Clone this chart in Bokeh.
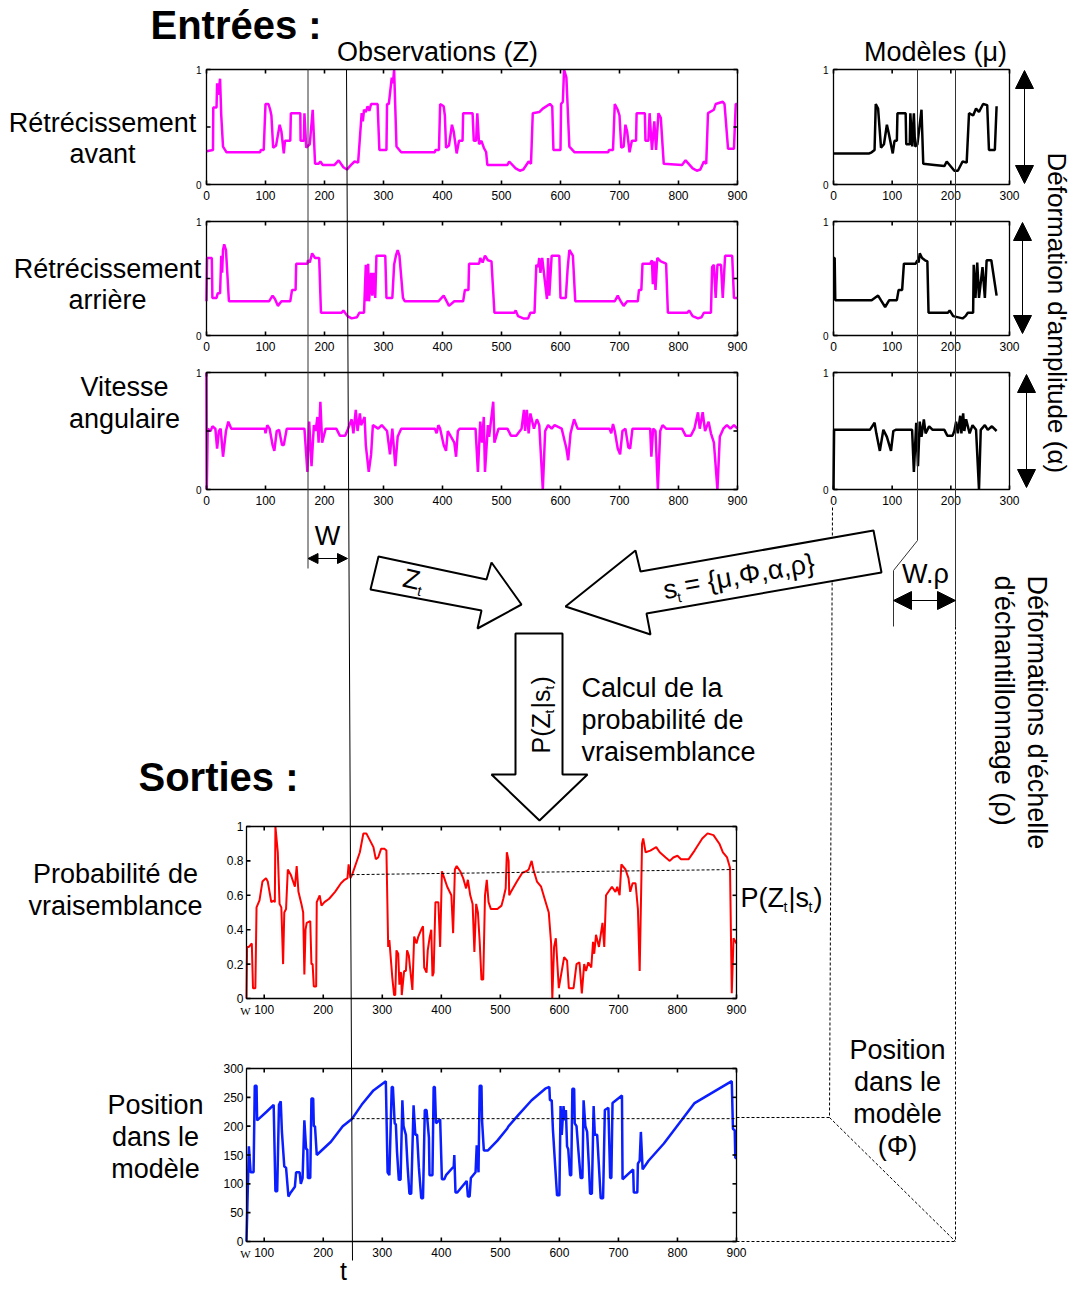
from bokeh.plotting import figure
from bokeh.models import Range1d, Arrow, NormalHead
from bokeh.core.properties import value
from bokeh.embed import file_html
from bokeh.resources import INLINE

# ---------------- data ----------------
avant = [(0,0.29),(11,0.30),(11.5,0.67),(17,0.67),(18,0.88),(20,0.78),(23,0.92),(25,0.60),(28,0.33),(34,0.28),(91,0.28),(92,0.30),(97,0.30),(100,0.70),(105,0.70),(108,0.65),(110,0.60),(113,0.32),(118,0.34),(124,0.52),(127,0.46),(131,0.27),(133,0.38),(142,0.38),(143,0.62),(159,0.62),(159.5,0.38),(165,0.38),(166,0.62),(169,0.32),(175,0.35),(180,0.65),(184,0.18),(190,0.18),(193,0.20),(197,0.17),(217,0.17),(224,0.21),(232,0.15),(238,0.13),(245,0.17),(251,0.20),(257,0.19),(263,0.62),(265,0.55),(267,0.65),(270,0.63),(273,0.68),(276,0.64),(279,0.70),(290,0.70),(293,0.30),(305,0.30),(306,0.70),(309,0.70),(314,0.93),(316,0.88),(318,1.0),(322,0.33),(330,0.28),
         (387,0.28),(388,0.30),(394,0.30),(396,0.70),(402,0.68),(404,0.60),(406,0.32),(411,0.34),(416,0.52),(419,0.46),(424,0.27),(428,0.38),(434,0.38),(435,0.62),(451,0.62),(453,0.38),(457,0.38),(459,0.62),(462,0.35),(466,0.38),(470,0.32),(474,0.28),(476,0.17),(510,0.17),(513,0.20),(524,0.14),(531,0.12),(537,0.13),(546,0.20),(550,0.18),(553,0.62),(564,0.63),(570,0.66),(582,0.70),(586,0.68),(588,0.30),(600,0.30),(601,0.70),(604,0.72),(606,1.0),(610,0.93),(615,0.33),(624,0.28),
         (681,0.28),(682,0.30),(689,0.30),(692,0.70),(697,0.65),(700,0.60),(703,0.32),(707,0.33),(710,0.52),(713,0.46),(717,0.28),(721,0.38),(728,0.38),(729,0.62),(743,0.62),(744,0.38),(749,0.38),(751,0.62),(755,0.30),(759,0.55),(762,0.30),(766,0.62),(770,0.58),(775,0.18),(806,0.17),(812,0.21),(824,0.14),(831,0.12),(837,0.13),(843,0.20),(847,0.18),(850,0.62),(860,0.65),(863,0.70),(875,0.72),(878,0.70),(884,0.31),(894,0.31),(897,0.70),(900,0.70)]

arriere = [(0,0.30),(1,0.68),(9,0.68),(10,0.33),(17,0.33),(19,0.37),(23,0.37),(25,0.70),(26.5,0.55),(28,0.75),(30,0.80),(33,0.75),(38,0.30),(106,0.30),(112,0.35),(116,0.32),(121,0.26),(127,0.30),(142,0.30),(145,0.40),(151,0.40),(152,0.63),(171,0.63),(172,0.66),(175,0.64),(179,0.72),(184,0.68),(191,0.68),(194,0.20),(229,0.20),(232,0.22),(239,0.17),(246,0.15),(255,0.16),(259,0.20),(267,0.20),(270,0.62),(271.5,0.30),(274,0.63),(275.5,0.30),(279,0.55),(281,0.35),(283,0.55),(286,0.33),(288,0.70),(303,0.70),(305,0.33),(315,0.33),(318,0.62),(321,0.70),(324,0.75),(327,0.70),(333,0.33),(336,0.30),
           (393,0.30),(402,0.35),(406,0.31),(411,0.26),(420,0.30),(435,0.30),(438,0.40),(444,0.40),(445,0.63),(462,0.63),(464,0.68),(468,0.64),(472,0.70),(477,0.66),(483,0.65),(488,0.20),(522,0.20),(524,0.22),(528,0.17),(537,0.15),(545,0.15),(549,0.20),(556,0.20),(559,0.62),(562,0.60),(564,0.68),(566,0.55),(569,0.68),(577,0.32),(579,0.68),(581,0.35),(585,0.70),(598,0.70),(600,0.33),(609,0.33),(612,0.58),(615,0.75),(621,0.70),(625,0.30),
           (692,0.30),(697,0.35),(702,0.30),(707,0.26),(713,0.30),(731,0.30),(733,0.40),(737,0.40),(739,0.63),(752,0.63),(755,0.66),(756.5,0.45),(759,0.65),(761,0.40),(764,0.68),(770,0.65),(779,0.63),(782,0.20),(815,0.20),(818,0.22),(824,0.17),(833,0.15),(839,0.16),(843,0.20),(855,0.20),(857,0.60),(860,0.62),(863,0.33),(866,0.62),(872,0.62),(875,0.33),(879,0.70),(891,0.70),(894,0.33),(900,0.33)]

vitesse = [(0,1.0),(0.5,0.0),(2,0.52),(7,0.50),(10,0.54),(15,0.52),(18,0.35),(21,0.50),(24,0.52),(28,0.28),(33,0.50),(37,0.58),(42,0.52),(99,0.52),(100,0.48),(103,0.55),(107,0.52),(112,0.38),(115,0.33),(119,0.50),(123,0.51),(128,0.38),(131,0.38),(136,0.52),(166,0.52),(171,0.15),(174,0.58),(178,0.20),(182,0.55),(185,0.50),(188,0.62),(190,0.40),(193,0.75),(196,0.40),(202,0.52),(220,0.52),(226,0.46),(235,0.46),(240,0.52),(246,0.60),(249,0.48),(253,0.68),(256,0.50),(260,0.65),(262,0.55),(268,0.62),(270,0.38),(275,0.15),(279,0.30),(282,0.55),(291,0.52),(297,0.55),(306,0.50),(311,0.30),(315,0.52),(320,0.20),(324,0.45),(330,0.52),
           (387,0.52),(390,0.48),(393,0.55),(396,0.52),(402,0.38),(406,0.33),(409,0.50),(420,0.40),(423,0.28),(426,0.50),(429,0.52),(456,0.52),(460,0.15),(464,0.58),(467,0.40),(470,0.62),(472,0.15),(477,0.55),(479,0.45),(486,0.75),(488,0.40),(495,0.52),(510,0.52),(516,0.46),(525,0.46),(534,0.52),(538,0.68),(540,0.50),(543,0.68),(546,0.48),(549,0.65),(555,0.52),(560,0.60),(564,0.55),(570,0.0),(574,0.50),(579,0.55),(585,0.52),(590,0.55),(602,0.52),(610,0.35),(613,0.25),(617,0.48),(623,0.60),(629,0.52),
           (683,0.52),(686,0.48),(689,0.56),(692,0.50),(697,0.35),(701,0.30),(705,0.50),(710,0.52),(715,0.36),(718,0.35),(722,0.52),(752,0.52),(754,0.28),(757,0.52),(761,0.50),(765,0.0),(769,0.50),(773,0.55),(779,0.52),(806,0.52),(812,0.46),(821,0.46),(827,0.52),(833,0.66),(836,0.52),(841,0.66),(845,0.50),(851,0.58),(855,0.48),(860,0.40),(866,0.0),(870,0.45),(876,0.52),(882,0.55),(888,0.52),(894,0.55),(900,0.52)]

mod_avant = [(0,0.27),(61,0.27),(65,0.28),(70,0.30),(72,0.70),(76,0.66),(81,0.32),(86,0.35),(91,0.52),(94,0.45),(101,0.27),(104,0.38),(108,0.38),(109,0.62),(123,0.62),(124,0.35),(130,0.35),(131,0.62),(134,0.33),(137,0.62),(139,0.33),(143,0.35),(150,0.65),(153,0.18),(172,0.17),(189,0.16),(193,0.20),(206,0.12),(212,0.12),(220,0.20),(227,0.19),(231,0.62),(238,0.60),(243,0.66),(248,0.63),(255,0.70),(262,0.69),(265,0.30),(275,0.30),(278,0.68)]

mod_arriere = [(0,0.68),(2,0.68),(3,0.31),(65,0.31),(76,0.35),(82,0.30),(88,0.25),(95,0.31),(108,0.31),(111,0.40),(117,0.40),(120,0.63),(140,0.63),(143,0.66),(145,0.64),(147,0.72),(151,0.68),(156,0.66),(160,0.65),(162,0.20),(195,0.20),(198,0.22),(204,0.17),(220,0.15),(225,0.17),(229,0.20),(238,0.20),(239,0.62),(242,0.33),(245,0.64),(248,0.33),(254,0.60),(258,0.33),(261,0.66),(269,0.66),(278,0.35)]

mod_vitesse = [(0,0.0),(1,0.51),(62,0.51),(70,0.57),(73,0.48),(79,0.33),(85,0.51),(91,0.45),(98,0.33),(102,0.50),(106,0.51),(134,0.51),(137,0.15),(141,0.57),(144,0.20),(147,0.58),(150,0.45),(154,0.60),(157,0.48),(163,0.54),(169,0.51),(189,0.51),(194,0.46),(203,0.46),(206,0.50),(209,0.58),(212,0.48),(216,0.63),(218,0.48),(221,0.65),(223,0.50),(226,0.60),(232,0.48),(237,0.55),(243,0.51),(248,0.0),(251,0.51),(258,0.55),(263,0.51),(270,0.54),(278,0.50)]

proba = [(70,0.0),(71,0.30),(74,0.30),(79,0.32),(81,0.06),(85,0.06),(87,0.53),(92,0.57),(97,0.68),(103,0.70),(106,0.68),(112,0.56),(116,0.57),(118,0.56),(119,1.0),(123,0.85),(126,0.55),(129,0.53),(132,0.20),(134,0.50),(137,0.52),(140,0.75),(145,0.72),(152,0.65),(155,0.77),(158,0.62),(163,0.55),(166,0.50),(168,0.14),(170,0.40),(172,0.44),(178,0.45),(180,0.20),(182,0.20),(184,0.07),(188,0.07),(189,0.56),(194,0.60),(197,0.54),(202,0.56),(210,0.58),(220,0.62),(230,0.67),(236,0.69),(241,0.70),(243,0.78),(246,0.70),(249,0.72),(252,0.75),(259,0.82),(262,0.85),(268,0.96),(273,0.96),(285,0.88),(289,0.81),(293,0.82),(298,0.87),(304,0.87),(307,0.86),(310,0.30),(312,0.34),(317,0.12),(320,0.02),(322,0.02),(324,0.28),(327,0.26),(329,0.08),(331,0.15),(332,0.15),(333,0.02),(337,0.16),(340,0.16),(342,0.28),(345,0.25),(347,0.18),(351,0.05),(354,0.36),(358,0.32),(361,0.36),(366,0.40),(369,0.42),(371,0.18),(375,0.15),(377,0.28),(380,0.35),(383,0.40),(385,0.13),(387,0.15),(390,0.56),(395,0.56),(398,0.30),(401,0.74),(405,0.70),(410,0.65),(417,0.60),(420,0.38),(423,0.75),(426,0.77),(432,0.74),(437,0.70),(442,0.64),(445,0.69),(449,0.60),(453,0.55),(456,0.27),(459,0.55),(462,0.50),(465,0.33),(468,0.11),(471,0.11),(474,0.60),(477,0.69),(480,0.56),(484,0.52),(495,0.52),(502,0.54),(505,0.58),(509,0.64),(511,0.85),(514,0.80),(515,0.60),(518,0.62),(528,0.68),(537,0.73),(544,0.74),(548,0.75),(553,0.80),(556,0.75),(562,0.68),(569,0.65),(575,0.58),(582,0.50),(586,0.32),(588,0.0),(591,0.30),(594,0.35),(599,0.06),(608,0.24),(613,0.22),(616,0.06),(624,0.06),(629,0.20),(634,0.21),(638,0.03),(642,0.20),(645,0.16),(649,0.21),(654,0.18),(657,0.33),(659,0.26),(662,0.37),(667,0.30),(673,0.44),(676,0.30),(679,0.60),(689,0.65),(695,0.62),(698,0.65),(702,0.60),(705,0.78),(712,0.75),(717,0.70),(720,0.62),(724,0.67),(729,0.67),(733,0.52),(736,0.16),(740,0.90),(742,0.93),(746,0.85),(754,0.86),(764,0.88),(770,0.85),(780,0.82),(787,0.80),(793,0.82),(800,0.83),(806,0.81),(819,0.81),(829,0.86),(842,0.93),(851,0.96),(861,0.95),(871,0.90),(877,0.85),(884,0.82),(889,0.76),(892,0.03),(895,0.35),(900,0.32)]

position = [(70,0),(74,165),(77,120),(82,120),(84,270),(87,270),(88,210),(104,225),(116,237),(119,87),(122,87),(125,237),(128,243),(130,190),(134,130),(137,128),(141,78),(145,85),(152,95),(154,120),(160,120),(162,100),(165,110),(168,210),(171,160),(173,160),(174,110),(178,110),(180,248),(183,248),(184,200),(186,200),(189,150),(213,173),(233,200),(249,213),(265,237),(285,262),(306,278),(309,120),(312,115),(316,268),(318,268),(321,205),(323,203),(325,155),(328,107),(331,107),(334,245),(336,200),(340,185),(343,128),(346,83),(349,83),(353,236),(356,185),(359,185),(362,128),(366,75),(369,75),(372,228),(375,228),(379,180),(380,115),(385,115),(387,268),(389,268),(391,205),(398,212),(401,108),(405,108),(408,115),(421,130),(422,150),(424,85),(427,85),(443,105),(445,78),(448,78),(450,110),(458,120),(460,167),(463,120),(465,270),(468,270),(469,210),(472,158),(479,158),(495,175),(511,195),(514,200),(531,220),(553,245),(576,265),(583,268),(584,245),(587,245),(589,195),(592,145),(596,80),(600,80),(602,235),(604,185),(607,235),(609,210),(611,228),(613,165),(615,160),(618,115),(620,115),(622,265),(625,265),(626,205),(629,200),(632,160),(636,110),(639,110),(641,245),(644,200),(647,190),(650,130),(652,83),(655,83),(658,235),(660,185),(664,185),(670,75),(674,75),(677,228),(683,232),(686,110),(688,110),(690,240),(706,253),(707,108),(725,125),(726,85),(732,85),(733,135),(736,140),(738,190),(741,125),(751,140),(777,170),(803,205),(829,240),(892,278),(894,195),(897,193),(898,145),(900,145)]

obs_xticks = [0, 100, 200, 300, 400, 500, 600, 700, 800, 900]
mod_xticks = [0, 100, 200, 300]
out_xticks = [100, 200, 300, 400, 500, 600, 700, 800, 900]
proba_yticks = [0, 0.2, 0.4, 0.6, 0.8, 1]
proba_ylabels = ["0", "0.2", "0.4", "0.6", "0.8", "1"]
pos_yticks = [0, 50, 100, 150, 200, 250, 300]
W_START = 70          # first output sample (window length W)
T_NOW = 248           # current instant t
PROBA_LEVEL = (0.72, 0.75)   # dashed level of P(Zt|st)
POS_LEVEL = 213              # dashed level of position

FONT = "Liberation Sans"
LAB = 27

# ---------------- canvas ----------------
p = figure(width=1073, height=1289, x_range=Range1d(0, 1073), y_range=Range1d(1289, 0),
           toolbar_location=None, output_backend="svg",
           x_axis_location=None, y_axis_location=None, min_border=0)
p.grid.visible = False
p.outline_line_color = None
p.background_fill_color = "white"


def T(x, y, s, size=LAB, align="center", baseline="middle", angle=0, style="normal", font=FONT, tgt=None):
    tgt = tgt or p
    tgt.text(x=[x], y=[y], text=[s], text_font=value(font), text_font_size=f"{size}px",
             text_align=align, text_baseline=baseline, angle=angle, angle_units="deg",
             text_font_style=style, text_color="black")


def panel(box, xr, yr, data, color, xticks, xlabels, yticks, ylab_ticks, ylab_texts,
          lw=2.5, lab_size=12, ylab_size=12, xlab_dy=11, ylab_dx=3, side_ticks=True, w_label=False):
    px0, px1, pytop, pybot = box
    sub = p.subplot(x_source=Range1d(*xr), y_source=Range1d(*yr),
                    x_target=Range1d(px0, px1), y_target=Range1d(pybot, pytop))
    ux = (xr[1] - xr[0]) / (px1 - px0)
    uy = (yr[1] - yr[0]) / (pybot - pytop)
    xs, ys = zip(*data)
    sub.line(list(xs), list(ys), line_color=color, line_width=lw)
    sub.quad(left=[xr[0]], right=[xr[1]], bottom=[yr[0]], top=[yr[1]],
             fill_color=None, line_color="black", line_width=1.3)
    tl = 4
    n = len(xticks)
    sub.segment(x0=xticks, y0=[yr[0]] * n, x1=xticks, y1=[yr[0] + tl * uy] * n, line_color="black", line_width=1.6)
    sub.segment(x0=xticks, y0=[yr[1]] * n, x1=xticks, y1=[yr[1] - tl * uy] * n, line_color="black", line_width=1.6)
    m = len(yticks)
    sub.segment(x0=[xr[0]] * m, y0=yticks, x1=[xr[0] + tl * ux] * m, y1=yticks, line_color="black", line_width=1.6)
    if side_ticks:
        sub.segment(x0=[xr[1]] * m, y0=yticks, x1=[xr[1] - tl * ux] * m, y1=yticks, line_color="black", line_width=1.6)
    sub.text(x=xticks, y=[yr[0] - xlab_dy * uy] * n, text=xlabels, text_font=value(FONT),
             text_font_size=f"{lab_size}px", text_align="center", text_baseline="middle")
    k = len(ylab_ticks)
    sub.text(x=[xr[0] - ylab_dx * ux] * k, y=ylab_ticks, text=ylab_texts, text_font=value(FONT),
             text_font_size=f"{ylab_size}px", text_align="right", text_baseline="middle")
    if w_label:
        sub.text(x=[xr[0] - 1 * ux], y=[yr[0] - (xlab_dy + 1.5) * uy], text=["W"], text_font=value("Liberation Serif"),
                 text_font_size="11px", text_align="center", text_baseline="middle")
    return sub


obs_lab = [str(v) for v in obs_xticks]
mod_lab = [str(v) for v in mod_xticks]
out_lab = [str(v) for v in out_xticks]

# observations
for data, (yt, yb) in zip([avant, arriere, vitesse], [(69, 184), (221, 335), (372, 489)]):
    panel((206, 737, yt, yb), (0, 900), (0, 1), data, "#FF00FF", obs_xticks, obs_lab,
          [0, 0.5, 1], [0, 1], ["0", "1"], ylab_size=10, ylab_dx=5)
# models
for data, (yt, yb) in zip([mod_avant, mod_arriere, mod_vitesse], [(69, 184), (221, 335), (372, 489)]):
    panel((833, 1009, yt, yb), (0, 300), (0, 1), data, "black", mod_xticks, mod_lab,
          [0, 1], [0, 1], ["0", "1"], ylab_size=10, ylab_dx=5, side_ticks=False)
# outputs
sp = panel((246, 736, 826, 998), (W_START, 900), (0, 1), proba, "#FF0000", out_xticks, out_lab,
           proba_yticks, proba_yticks, proba_ylabels, lw=2, w_label=True)
sp.line([T_NOW, 900], list(PROBA_LEVEL), line_color="black", line_width=1, line_dash="3 2")
bp = panel((246, 736, 1068, 1241), (W_START, 900), (0, 300), position, "#0A1EFF", out_xticks, out_lab,
           pos_yticks, pos_yticks, [str(v) for v in pos_yticks], lw=2.5, w_label=True)
bp.line([T_NOW, 900], [POS_LEVEL, POS_LEVEL], line_color="black", line_width=1, line_dash="3 2")

# ---------------- connectors ----------------
p.line([307.5, 307.5], [69, 568], line_color="#333333", line_width=1)
p.line([346, 352], [69, 1260], line_color="black", line_width=1)
p.line([917, 917, 893, 893], [69, 540, 570, 626], line_color="#333333", line_width=1)
p.line([955, 955], [69, 626], line_color="#333333", line_width=1)
dash = dict(line_color="black", line_width=1, line_dash="3 2")
p.line([955, 955], [626, 1241], **dash)
p.line([832, 829], [507, 1117], **dash)
p.line([829, 955], [1117, 1241], **dash)
p.line([736, 955], [1241, 1241], **dash)
p.line([736, 829], [1117, 1117], **dash)

# double arrows
def darrow(x0, y0, x1, y1, size):
    p.add_layout(Arrow(start=NormalHead(size=size, fill_color="black", line_color="black"),
                       end=NormalHead(size=size, fill_color="black", line_color="black"),
                       x_start=x0, y_start=y0, x_end=x1, y_end=y1, line_color="black", line_width=1))

darrow(307.5, 558, 347, 558, 10)
darrow(893, 600, 955, 600, 18)
darrow(1024, 70, 1024, 183, 18)
darrow(1022, 222, 1022, 333, 18)
darrow(1026, 374, 1026, 487, 18)

# block arrows
arrow_style = dict(fill_color="white", line_color="black", line_width=2)
p.patch([378, 486, 491, 521, 477, 481, 370], [556, 579, 562, 604, 628, 610, 589], **arrow_style)
p.patch([565, 635, 640, 873, 881, 646, 650], [606, 550, 571, 530, 572, 613, 634], **arrow_style)
p.patch([515, 562, 562, 587, 539, 491, 515], [633, 633, 774, 774, 820, 774, 774], **arrow_style)

# ---------------- texts ----------------
T(150, 24, "Entrées :", size=40, align="left", style="bold")
T(138, 776, "Sorties :", size=40, align="left", style="bold")
T(437, 51, "Observations (Z)", size=27)
T(935, 51, "Modèles (μ)", size=27)
T(102, 122, "Rétrécissement"); T(102, 153, "avant")
T(107, 268, "Rétrécissement"); T(107, 299, "arrière")
T(124, 386, "Vitesse"); T(124, 418, "angulaire")
T(115, 873, "Probabilité de"); T(115, 905, "vraisemblance")
T(155, 1104, "Position"); T(155, 1136, "dans le"); T(155, 1168, "modèle")
T(897, 1049, "Position"); T(897, 1081, "dans le"); T(897, 1113, "modèle"); T(897, 1145, "(Φ)")
T(581, 687, "Calcul de la", align="left")
T(581, 719, "probabilité de", align="left")
T(581, 751, "vraisemblance", align="left")
T(1056, 152, "Déformation d'amplitude (α)", size=26, align="left", angle=-90)
T(1036, 575, "Déformations d'échelle", align="left", angle=-90)
T(1003, 575, "d'échantillonnage (ρ)", align="left", angle=-90)
T(327, 535, "W")
T(925, 573, "W.ρ")
T(343, 1270, "t", size=25)
# P(Zt|st) right of the probability plot
T(740, 897, "P(Z", align="left")
T(783, 906, "t", size=14, align="left")
T(788, 897, "|s", align="left")
T(808, 906, "t", size=14, align="left")
T(813, 897, ")", align="left")
# P(Zt|st) inside the down arrow (rotated)
T(540, 753, "P(Z", size=25, align="left", angle=90)
T(549, 713, "t", size=13, align="left", angle=90)
T(540, 708, "|s", size=25, align="left", angle=90)
T(549, 689, "t", size=13, align="left", angle=90)
T(540, 684, ")", size=25, align="left", angle=90)
# Zt on the observation arrow
T(403, 577, "Z", align="left", angle=-13)
T(417, 590, "t", size=14, align="left", angle=-13)
# st = {...} on the state arrow
T(663, 590, "s", align="left", angle=10)
T(677, 597, "t", size=14, align="left", angle=10)
T(684, 585, "= {μ,Φ,α,ρ}", align="left", angle=10)

open("out.html", "w").write(file_html(p, INLINE))
